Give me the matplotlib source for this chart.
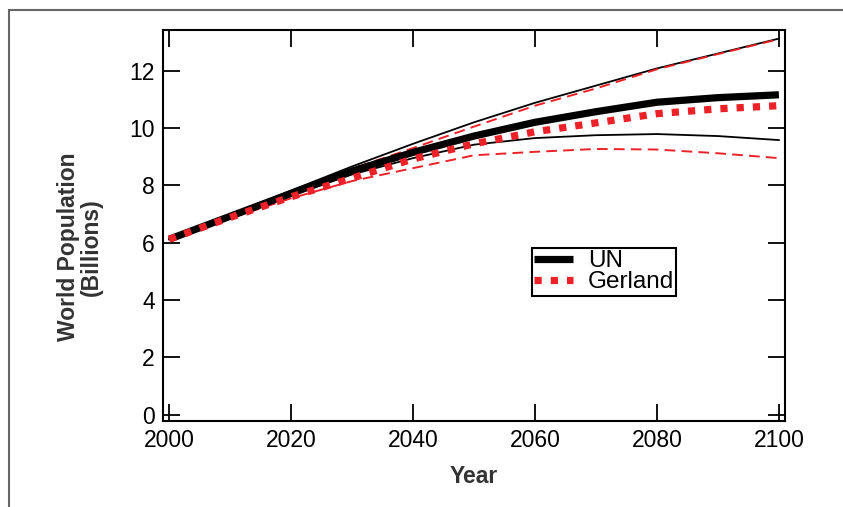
import matplotlib.pyplot as plt
from matplotlib.patches import Rectangle

plt.rcParams["font.family"] = ["Liberation Sans", "DejaVu Sans"]

years = [2000, 2010, 2020, 2030, 2040, 2050, 2060, 2070, 2080, 2090, 2100]

un_median = [6.12, 6.92, 7.72, 8.50, 9.15, 9.72, 10.20, 10.57, 10.90, 11.06, 11.16]
un_upper = [6.12, 6.96, 7.82, 8.66, 9.45, 10.20, 10.88, 11.48, 12.08, 12.60, 13.12]
un_lower = [6.12, 6.88, 7.65, 8.38, 8.95, 9.42, 9.65, 9.75, 9.79, 9.72, 9.58]

gerland_median = [6.12, 6.88, 7.60, 8.25, 8.92, 9.45, 9.87, 10.18, 10.50, 10.67, 10.78]
gerland_upper = [6.12, 6.92, 7.77, 8.58, 9.30, 10.05, 10.78, 11.38, 12.05, 12.58, 13.10]
gerland_lower = [6.12, 6.85, 7.55, 8.15, 8.60, 9.05, 9.17, 9.27, 9.25, 9.12, 8.95]

x_ticks = [2000, 2020, 2040, 2060, 2080, 2100]
y_ticks = [0, 2, 4, 6, 8, 10, 12]

RED = "#ec2228"

fig = plt.figure(figsize=(8.43, 5.07), dpi=100)
ax = fig.add_axes([163 / 843, 1 - 421 / 507, 622 / 843, 391 / 507])

# outer frame of the figure panel (runs off the right and bottom edges)
fig.patches.append(Rectangle((9 / 843, -0.2), 1.2, 1.2 - 10 / 507,
                             transform=fig.transFigure, fill=False,
                             edgecolor="#666666", linewidth=1.5))

ax.plot(years, un_upper, color="black", linewidth=1.3)
ax.plot(years, un_lower, color="black", linewidth=1.3)
ax.plot(years, gerland_upper, color=RED, linewidth=1.4, dashes=(5.5, 3.2))
ax.plot(years, gerland_lower, color=RED, linewidth=1.4, dashes=(5.5, 3.2))
ax.plot(years, un_median, color="black", linewidth=5.2, label="UN",
        solid_capstyle="butt")
ax.plot(years, gerland_median, color=RED, linewidth=5.2, dashes=(1.0, 1.25),
        dash_capstyle="butt", label="Gerland")

ax.set_xlim(1999, 2101)
ax.set_ylim(-0.22, 13.42)
ax.set_xticks(x_ticks)
ax.set_yticks(y_ticks)

ax.tick_params(direction="in", length=12, width=1.3, labelsize=16.5,
               top=True, right=True, pad=6, colors="black")
for s in ax.spines.values():
    s.set_linewidth(1.5)

ax.set_xlabel("Year", fontsize=16.5, fontweight="bold", color="#333333")
ax.xaxis.set_label_coords(0.5, -0.113)
ax.set_ylabel("World Population\n(Billions)", fontsize=16.5,
              fontweight="bold", color="#333333", linespacing=1.0)
ax.yaxis.set_label_coords(-0.096, 0.445)

leg = ax.legend(loc="upper left", bbox_to_anchor=(0.593, 0.4425),
                fontsize=17.5, frameon=True, fancybox=False, framealpha=1,
                edgecolor="black", handlelength=1.6, handletextpad=0.6,
                borderpad=0.1, labelspacing=-0.05, borderaxespad=0)
leg.get_frame().set_linewidth(1.5)

fig.savefig("out.png", dpi=100)
